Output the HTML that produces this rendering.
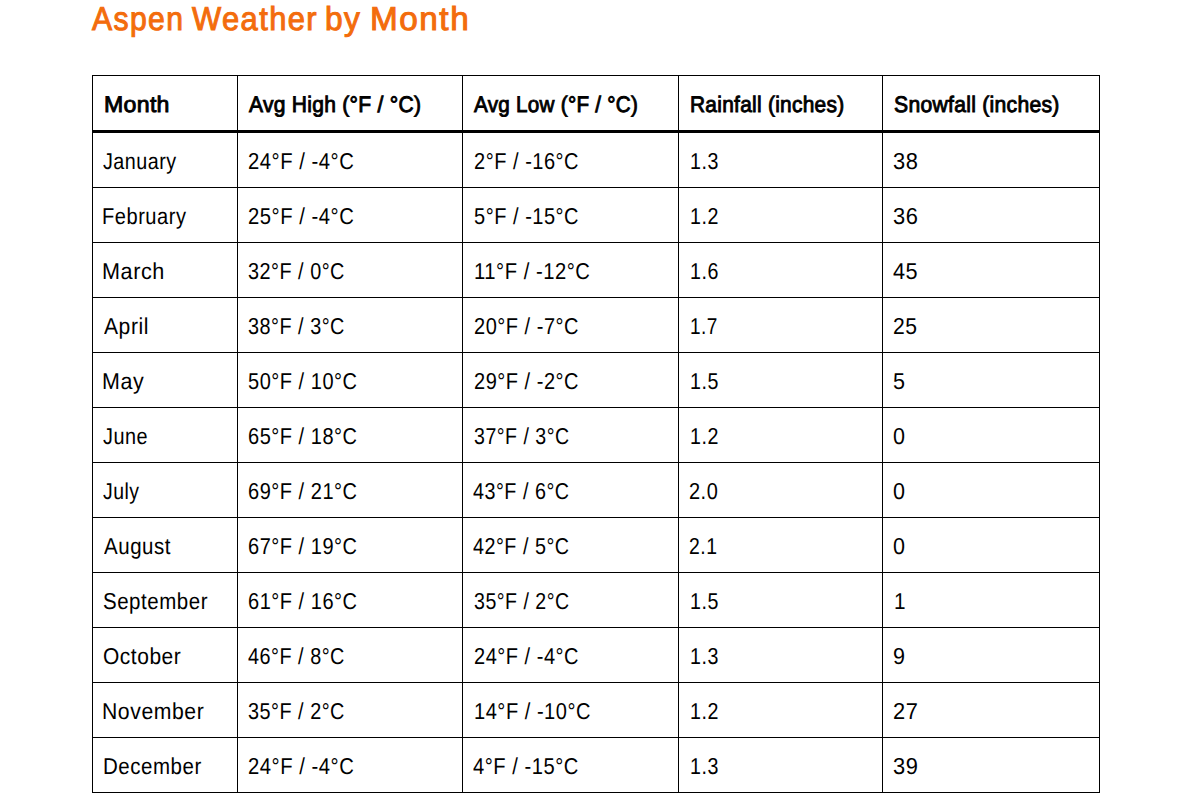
<!DOCTYPE html><html><head><meta charset="utf-8"><title>Aspen Weather by Month</title><style>
html,body{margin:0;padding:0;background:#fff}
body{width:1202px;height:800px;overflow:hidden;position:relative}
.l{position:absolute;background:#000}
.t{position:absolute;white-space:nowrap;font-family:"Liberation Sans",sans-serif;text-rendering:geometricPrecision;line-height:0;transform-origin:0 0}
</style></head><body>
<div class="l" style="left:92px;top:75px;width:1008px;height:1px"></div>
<div class="l" style="left:92px;top:130px;width:1008px;height:3px"></div>
<div class="l" style="left:92px;top:187px;width:1008px;height:1px"></div>
<div class="l" style="left:92px;top:242px;width:1008px;height:1px"></div>
<div class="l" style="left:92px;top:297px;width:1008px;height:1px"></div>
<div class="l" style="left:92px;top:352px;width:1008px;height:1px"></div>
<div class="l" style="left:92px;top:407px;width:1008px;height:1px"></div>
<div class="l" style="left:92px;top:462px;width:1008px;height:1px"></div>
<div class="l" style="left:92px;top:517px;width:1008px;height:1px"></div>
<div class="l" style="left:92px;top:572px;width:1008px;height:1px"></div>
<div class="l" style="left:92px;top:627px;width:1008px;height:1px"></div>
<div class="l" style="left:92px;top:682px;width:1008px;height:1px"></div>
<div class="l" style="left:92px;top:737px;width:1008px;height:1px"></div>
<div class="l" style="left:92px;top:792px;width:1008px;height:1px"></div>
<div class="l" style="left:92px;top:75px;width:1px;height:718px"></div>
<div class="l" style="left:237px;top:75px;width:1px;height:718px"></div>
<div class="l" style="left:462px;top:75px;width:1px;height:718px"></div>
<div class="l" style="left:678px;top:75px;width:1px;height:718px"></div>
<div class="l" style="left:882px;top:75px;width:1px;height:718px"></div>
<div class="l" style="left:1099px;top:75px;width:1px;height:718px"></div>
<div class="t" style="left:91.75px;top:19px;font-size:33px;color:#F36C0C;letter-spacing:1.5px;-webkit-text-stroke:1.0px #F36C0C;transform:scaleX(0.9128)">Aspen</div>
<div class="t" style="left:191.50px;top:19px;font-size:33px;color:#F36C0C;letter-spacing:1.5px;-webkit-text-stroke:1.0px #F36C0C;transform:scaleX(0.9361)">Weather</div>
<div class="t" style="left:324.68px;top:19px;font-size:33px;color:#F36C0C;letter-spacing:1.5px;-webkit-text-stroke:1.0px #F36C0C;transform:scaleX(0.9600)">by</div>
<div class="t" style="left:369.68px;top:19px;font-size:33px;color:#F36C0C;letter-spacing:1.5px;-webkit-text-stroke:1.0px #F36C0C;transform:scaleX(1.0096)">Month</div>
<div class="t" style="left:103.67px;top:105px;font-size:22.5px;color:#000;letter-spacing:0.3px;-webkit-text-stroke:0.9px #000;transform:scaleX(1.0274)">Month</div>
<div class="t" style="left:249.30px;top:105px;font-size:22.5px;color:#000;letter-spacing:0.3px;-webkit-text-stroke:0.9px #000;transform:scaleX(0.9344)">Avg High (°F / °C)</div>
<div class="t" style="left:474.20px;top:105px;font-size:22.5px;color:#000;letter-spacing:0.3px;-webkit-text-stroke:0.9px #000;transform:scaleX(0.9174)">Avg Low (°F / °C)</div>
<div class="t" style="left:690.07px;top:105px;font-size:22.5px;color:#000;letter-spacing:0.3px;-webkit-text-stroke:0.9px #000;transform:scaleX(0.9280)">Rainfall (inches)</div>
<div class="t" style="left:893.66px;top:105px;font-size:22.5px;color:#000;letter-spacing:0.3px;-webkit-text-stroke:0.9px #000;transform:scaleX(0.9391)">Snowfall (inches)</div>
<div class="t" style="left:102.64px;top:161px;font-size:23px;color:#000;letter-spacing:0.6px;transform:scaleX(0.8571)">January</div>
<div class="t" style="left:248.42px;top:161px;font-size:23px;color:#000;letter-spacing:0.6px;transform:scaleX(0.8797)">24°F / -4°C</div>
<div class="t" style="left:473.73px;top:161px;font-size:23px;color:#000;letter-spacing:0.6px;transform:scaleX(0.8695)">2°F / -16°C</div>
<div class="t" style="left:689.89px;top:161px;font-size:23px;color:#000;letter-spacing:0.6px;transform:scaleX(0.8533)">1.3</div>
<div class="t" style="left:893.45px;top:161px;font-size:23px;color:#000;letter-spacing:0.6px;transform:scaleX(0.9500)">38</div>
<div class="t" style="left:102.36px;top:216px;font-size:23px;color:#000;letter-spacing:0.6px;transform:scaleX(0.8723)">February</div>
<div class="t" style="left:248.42px;top:216px;font-size:23px;color:#000;letter-spacing:0.6px;transform:scaleX(0.8797)">25°F / -4°C</div>
<div class="t" style="left:473.73px;top:216px;font-size:23px;color:#000;letter-spacing:0.6px;transform:scaleX(0.8695)">5°F / -15°C</div>
<div class="t" style="left:689.89px;top:216px;font-size:23px;color:#000;letter-spacing:0.6px;transform:scaleX(0.8533)">1.2</div>
<div class="t" style="left:893.45px;top:216px;font-size:23px;color:#000;letter-spacing:0.6px;transform:scaleX(0.9500)">36</div>
<div class="t" style="left:102.22px;top:271px;font-size:23px;color:#000;letter-spacing:0.6px;transform:scaleX(0.9397)">March</div>
<div class="t" style="left:248.44px;top:271px;font-size:23px;color:#000;letter-spacing:0.6px;transform:scaleX(0.8609)">32°F / 0°C</div>
<div class="t" style="left:473.64px;top:271px;font-size:23px;color:#000;letter-spacing:0.6px;transform:scaleX(0.8783)">11°F / -12°C</div>
<div class="t" style="left:689.89px;top:271px;font-size:23px;color:#000;letter-spacing:0.6px;transform:scaleX(0.8533)">1.6</div>
<div class="t" style="left:892.86px;top:271px;font-size:23px;color:#000;letter-spacing:0.6px;transform:scaleX(0.9417)">45</div>
<div class="t" style="left:104.10px;top:326px;font-size:23px;color:#000;letter-spacing:0.6px;transform:scaleX(0.9170)">April</div>
<div class="t" style="left:248.44px;top:326px;font-size:23px;color:#000;letter-spacing:0.6px;transform:scaleX(0.8609)">38°F / 3°C</div>
<div class="t" style="left:473.73px;top:326px;font-size:23px;color:#000;letter-spacing:0.6px;transform:scaleX(0.8695)">20°F / -7°C</div>
<div class="t" style="left:689.95px;top:326px;font-size:23px;color:#000;letter-spacing:0.6px;transform:scaleX(0.8267)">1.7</div>
<div class="t" style="left:893.48px;top:326px;font-size:23px;color:#000;letter-spacing:0.6px;transform:scaleX(0.9167)">25</div>
<div class="t" style="left:102.23px;top:381px;font-size:23px;color:#000;letter-spacing:0.6px;transform:scaleX(0.9326)">May</div>
<div class="t" style="left:248.43px;top:381px;font-size:23px;color:#000;letter-spacing:0.6px;transform:scaleX(0.8691)">50°F / 10°C</div>
<div class="t" style="left:473.73px;top:381px;font-size:23px;color:#000;letter-spacing:0.6px;transform:scaleX(0.8695)">29°F / -2°C</div>
<div class="t" style="left:689.89px;top:381px;font-size:23px;color:#000;letter-spacing:0.6px;transform:scaleX(0.8533)">1.5</div>
<div class="t" style="left:893.26px;top:381px;font-size:23px;color:#000;letter-spacing:0.6px;transform:scaleX(0.9364)">5</div>
<div class="t" style="left:102.64px;top:436px;font-size:23px;color:#000;letter-spacing:0.6px;transform:scaleX(0.8620)">June</div>
<div class="t" style="left:248.43px;top:436px;font-size:23px;color:#000;letter-spacing:0.6px;transform:scaleX(0.8691)">65°F / 18°C</div>
<div class="t" style="left:473.75px;top:436px;font-size:23px;color:#000;letter-spacing:0.6px;transform:scaleX(0.8500)">37°F / 3°C</div>
<div class="t" style="left:689.89px;top:436px;font-size:23px;color:#000;letter-spacing:0.6px;transform:scaleX(0.8533)">1.2</div>
<div class="t" style="left:893.26px;top:436px;font-size:23px;color:#000;letter-spacing:0.6px;transform:scaleX(0.9364)">0</div>
<div class="t" style="left:102.65px;top:491px;font-size:23px;color:#000;letter-spacing:0.6px;transform:scaleX(0.8452)">July</div>
<div class="t" style="left:248.43px;top:491px;font-size:23px;color:#000;letter-spacing:0.6px;transform:scaleX(0.8691)">69°F / 21°C</div>
<div class="t" style="left:472.94px;top:491px;font-size:23px;color:#000;letter-spacing:0.6px;transform:scaleX(0.8573)">43°F / 6°C</div>
<div class="t" style="left:689.43px;top:491px;font-size:23px;color:#000;letter-spacing:0.6px;transform:scaleX(0.8677)">2.0</div>
<div class="t" style="left:893.26px;top:491px;font-size:23px;color:#000;letter-spacing:0.6px;transform:scaleX(0.9364)">0</div>
<div class="t" style="left:104.10px;top:546px;font-size:23px;color:#000;letter-spacing:0.6px;transform:scaleX(0.8907)">August</div>
<div class="t" style="left:248.43px;top:546px;font-size:23px;color:#000;letter-spacing:0.6px;transform:scaleX(0.8691)">67°F / 19°C</div>
<div class="t" style="left:472.94px;top:546px;font-size:23px;color:#000;letter-spacing:0.6px;transform:scaleX(0.8573)">42°F / 5°C</div>
<div class="t" style="left:689.46px;top:546px;font-size:23px;color:#000;letter-spacing:0.6px;transform:scaleX(0.8419)">2.1</div>
<div class="t" style="left:893.26px;top:546px;font-size:23px;color:#000;letter-spacing:0.6px;transform:scaleX(0.9364)">0</div>
<div class="t" style="left:103.21px;top:601px;font-size:23px;color:#000;letter-spacing:0.6px;transform:scaleX(0.8905)">September</div>
<div class="t" style="left:248.43px;top:601px;font-size:23px;color:#000;letter-spacing:0.6px;transform:scaleX(0.8691)">61°F / 16°C</div>
<div class="t" style="left:473.75px;top:601px;font-size:23px;color:#000;letter-spacing:0.6px;transform:scaleX(0.8500)">35°F / 2°C</div>
<div class="t" style="left:689.89px;top:601px;font-size:23px;color:#000;letter-spacing:0.6px;transform:scaleX(0.8533)">1.5</div>
<div class="t" style="left:893.70px;top:601px;font-size:23px;color:#000;letter-spacing:0.6px;transform:scaleX(0.9000)">1</div>
<div class="t" style="left:103.19px;top:656px;font-size:23px;color:#000;letter-spacing:0.6px;transform:scaleX(0.9107)">October</div>
<div class="t" style="left:248.44px;top:656px;font-size:23px;color:#000;letter-spacing:0.6px;transform:scaleX(0.8609)">46°F / 8°C</div>
<div class="t" style="left:473.73px;top:656px;font-size:23px;color:#000;letter-spacing:0.6px;transform:scaleX(0.8695)">24°F / -4°C</div>
<div class="t" style="left:689.89px;top:656px;font-size:23px;color:#000;letter-spacing:0.6px;transform:scaleX(0.8533)">1.3</div>
<div class="t" style="left:893.26px;top:656px;font-size:23px;color:#000;letter-spacing:0.6px;transform:scaleX(0.9364)">9</div>
<div class="t" style="left:102.26px;top:711px;font-size:23px;color:#000;letter-spacing:0.6px;transform:scaleX(0.9222)">November</div>
<div class="t" style="left:248.44px;top:711px;font-size:23px;color:#000;letter-spacing:0.6px;transform:scaleX(0.8609)">35°F / 2°C</div>
<div class="t" style="left:473.66px;top:711px;font-size:23px;color:#000;letter-spacing:0.6px;transform:scaleX(0.8715)">14°F / -10°C</div>
<div class="t" style="left:689.89px;top:711px;font-size:23px;color:#000;letter-spacing:0.6px;transform:scaleX(0.8533)">1.2</div>
<div class="t" style="left:893.45px;top:711px;font-size:23px;color:#000;letter-spacing:0.6px;transform:scaleX(0.9500)">27</div>
<div class="t" style="left:102.72px;top:766px;font-size:23px;color:#000;letter-spacing:0.6px;transform:scaleX(0.8907)">December</div>
<div class="t" style="left:248.42px;top:766px;font-size:23px;color:#000;letter-spacing:0.6px;transform:scaleX(0.8797)">24°F / -4°C</div>
<div class="t" style="left:472.92px;top:766px;font-size:23px;color:#000;letter-spacing:0.6px;transform:scaleX(0.8763)">4°F / -15°C</div>
<div class="t" style="left:689.89px;top:766px;font-size:23px;color:#000;letter-spacing:0.6px;transform:scaleX(0.8533)">1.3</div>
<div class="t" style="left:893.45px;top:766px;font-size:23px;color:#000;letter-spacing:0.6px;transform:scaleX(0.9500)">39</div>
</body></html>
